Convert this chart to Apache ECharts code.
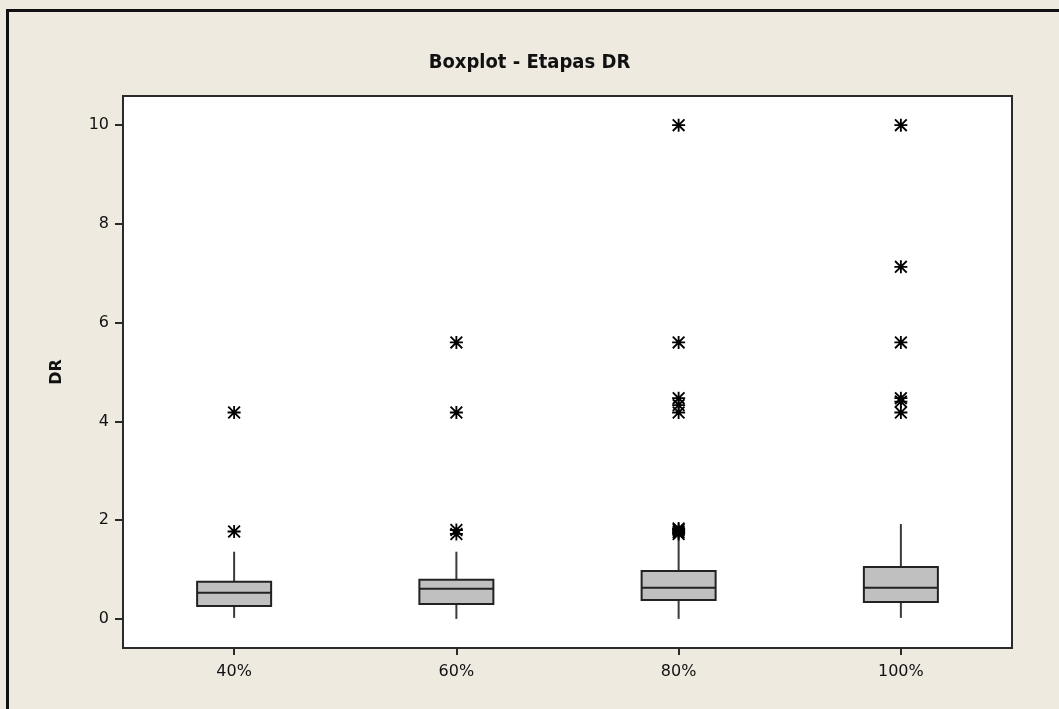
<!DOCTYPE html>
<html>
<head>
<meta charset="utf-8">
<script src="https://cdn.jsdelivr.net/npm/echarts@6/dist/echarts.min.js"></script>
<style>
  html, body { margin: 0; padding: 0; background: #EEEAE0; }
  #wrap { position: relative; width: 1059px; height: 709px; overflow: hidden; }
  #chart { position: absolute; left: 0; top: 0; width: 1059px; height: 709px; }
  #frame { position: absolute; left: 6px; top: 9px; right: -10px; bottom: -10px;
           border-top: 3px solid #111; border-left: 3px solid #111; pointer-events: none; }
</style>
</head>
<body>
<div id="wrap">
  <div id="chart"></div>
  <div id="frame"></div>
</div>
<script>
// Stages of DR
const categories = ['40%', '60%', '80%', '100%'];

// Five-number summaries per stage: [lower whisker, Q1, median, Q3, upper whisker]
const box40  = [0.02, 0.26, 0.53, 0.75, 1.36];
const box60  = [0.00, 0.30, 0.61, 0.79, 1.36];
const box80  = [0.00, 0.38, 0.63, 0.97, 1.70];
const box100 = [0.02, 0.34, 0.63, 1.05, 1.92];

// Outliers per stage
const out40  = [1.77, 4.18];
const out60  = [1.72, 1.80, 4.18, 5.60];
const out80  = [1.72, 1.76, 1.80, 1.83, 4.18, 4.33, 4.47, 5.60, 10.0];
const out100 = [4.18, 4.40, 4.47, 5.60, 7.13, 10.0];

// Y axis tick labels
const yTicks = [0, 2, 4, 6, 8, 10];

const boxes = [box40, box60, box80, box100];
const outliers = [out40, out60, out80, out100];

const boxData = boxes.map((b, i) => [i].concat(b));
const outlierData = [];
outliers.forEach((arr, i) => arr.forEach(v => outlierData.push([i, v])));

// Asterisk marker: vertical, horizontal and two diagonal arms
const asterisk = 'path://M10.3,0H13.7V24H10.3Z M0,10.3H24V13.7H0Z ' +
  'M0,2.4L2.4,0L24,21.6L21.6,24Z M21.6,0L24,2.4L2.4,24L0,21.6Z';

function renderBox(params, api) {
  const i = api.value(0);
  const lo = api.coord([i, api.value(1)]);
  const q1 = api.coord([i, api.value(2)]);
  const md = api.coord([i, api.value(3)]);
  const q3 = api.coord([i, api.value(4)]);
  const hi = api.coord([i, api.value(5)]);
  const band = api.size([1, 0])[0];
  const w = band * 0.333;
  const x = lo[0];
  const whiskerStyle = { stroke: '#3a3a3a', lineWidth: 2 };
  return {
    type: 'group',
    children: [
      { type: 'line', shape: { x1: x, y1: hi[1], x2: x, y2: q3[1] }, style: whiskerStyle },
      { type: 'line', shape: { x1: x, y1: q1[1], x2: x, y2: lo[1] }, style: whiskerStyle },
      { type: 'rect', shape: { x: x - w / 2, y: q3[1], width: w, height: q1[1] - q3[1] },
        style: { fill: '#C0C0C0', stroke: '#222', lineWidth: 2 } },
      { type: 'line', shape: { x1: x - w / 2, y1: md[1], x2: x + w / 2, y2: md[1] },
        style: { stroke: '#222', lineWidth: 2 } }
    ]
  };
}

const chart = echarts.init(document.getElementById('chart'), null, { renderer: 'canvas' });
const font = '"DejaVu Sans", Verdana, sans-serif';
const condensed = '"DejaVu Sans Condensed", "DejaVu Sans", sans-serif';

chart.setOption({
  animation: false,
  backgroundColor: 'transparent',
  title: {
    text: 'Boxplot - Etapas DR',
    left: 'center',
    top: 48,
    textStyle: { fontFamily: condensed, fontWeight: 'bold', fontSize: 20, color: '#111' }
  },
  grid: {
    left: 123, right: 47, top: 96, bottom: 61,
    show: true, backgroundColor: '#fff', borderColor: '#2a2a2a', borderWidth: 2
  },
  xAxis: {
    type: 'category',
    data: categories,
    boundaryGap: true,
    axisLine: { show: true, onZero: false, lineStyle: { color: '#2a2a2a', width: 2 } },
    axisTick: { show: true, alignWithLabel: true, length: 7, lineStyle: { color: '#2a2a2a', width: 2 } },
    axisLabel: { margin: 16, fontFamily: font, fontSize: 16, color: '#111' },
    splitLine: { show: false }
  },
  yAxis: {
    type: 'value',
    min: -0.59,
    max: 10.59,
    name: 'DR',
    nameLocation: 'middle',
    nameGap: 58,
    nameRotate: 90,
    nameTextStyle: { fontFamily: font, fontWeight: 'bold', fontSize: 16, color: '#111' },
    axisLine: { show: true, lineStyle: { color: '#2a2a2a', width: 2 } },
    axisTick: { show: true, customValues: yTicks, length: 8, lineStyle: { color: '#2a2a2a', width: 2 } },
    axisLabel: { customValues: yTicks, margin: 14, fontFamily: font, fontSize: 16, color: '#111' },
    splitLine: { show: false }
  },
  series: [
    {
      type: 'custom',
      name: 'DR',
      data: boxData,
      encode: { x: 0, y: [1, 2, 3, 4, 5] },
      renderItem: renderBox,
      z: 2
    },
    {
      type: 'scatter',
      data: outlierData,
      symbol: asterisk,
      symbolSize: 13,
      itemStyle: { color: '#000', opacity: 1 },
      z: 3
    }
  ]
});
</script>
</body>
</html>
